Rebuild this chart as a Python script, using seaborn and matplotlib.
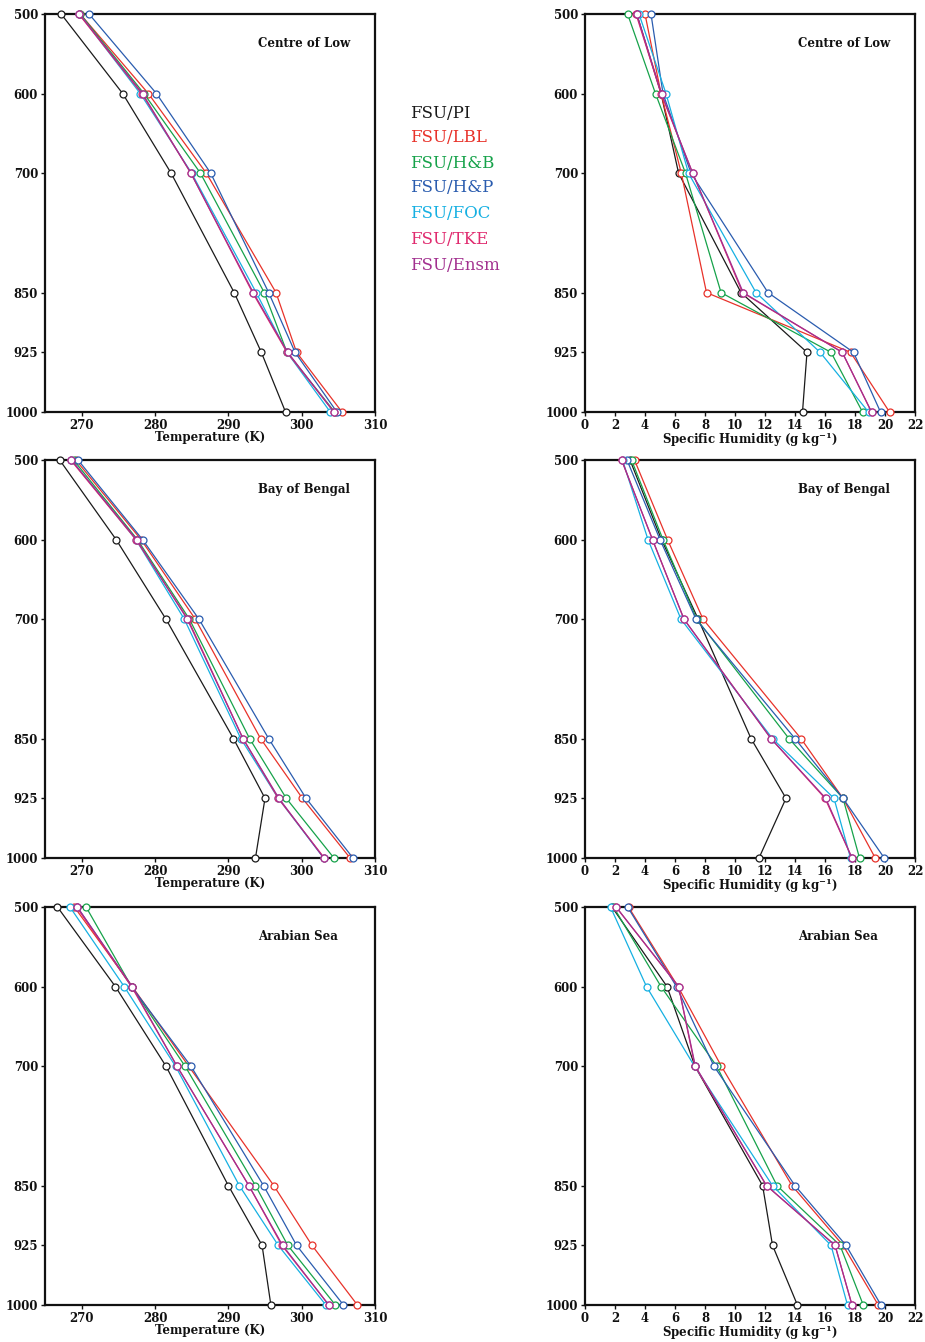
import numpy as np
import pandas as pd
import matplotlib
matplotlib.use("Agg")
import matplotlib.pyplot as plt
import seaborn as sns

# ---------------- data ----------------
pressure = [500, 600, 700, 850, 925, 1000]
models = ["FSU/PI", "FSU/LBL", "FSU/H&B", "FSU/H&P", "FSU/FOC", "FSU/TKE", "FSU/Ensm"]
colors = ["#1a1a1a", "#e8322a", "#16a24a", "#2a5caf", "#16b0e2", "#e02a6e", "#a2308f"]
regions = ["Centre of Low", "Bay of Bengal", "Arabian Sea"]

# Temperature (K)
temp_low_pi   = [267.2, 275.6, 282.2, 290.8, 294.5, 297.8]
temp_low_lbl  = [269.8, 279.1, 287.0, 296.5, 299.3, 305.5]
temp_low_hb   = [269.8, 278.5, 286.2, 294.9, 298.0, 304.5]
temp_low_hp   = [271.0, 280.2, 287.6, 295.5, 299.1, 304.8]
temp_low_foc  = [269.7, 278.0, 285.0, 293.8, 298.0, 303.9]
temp_low_tke  = [269.6, 278.2, 284.9, 293.3, 298.0, 304.4]
temp_low_ens  = [269.7, 278.3, 284.9, 293.4, 298.1, 304.4]

temp_bob_pi   = [267.0, 274.7, 281.5, 290.7, 295.0, 293.7]
temp_bob_lbl  = [269.2, 278.1, 285.5, 294.4, 300.1, 306.6]
temp_bob_hb   = [268.9, 277.6, 284.7, 292.9, 297.9, 304.4]
temp_bob_hp   = [269.5, 278.3, 286.0, 295.5, 300.6, 307.0]
temp_bob_foc  = [268.6, 277.4, 284.0, 291.7, 296.8, 303.0]
temp_bob_tke  = [268.5, 277.4, 284.5, 292.0, 296.8, 303.1]
temp_bob_ens  = [268.6, 277.5, 284.4, 292.0, 296.9, 303.0]

temp_ars_pi   = [266.7, 274.6, 281.5, 290.0, 294.6, 295.8]
temp_ars_lbl  = [269.0, 276.9, 284.6, 296.2, 301.4, 307.6]
temp_ars_hb   = [270.6, 276.8, 284.1, 293.7, 298.1, 304.6]
temp_ars_hp   = [269.4, 276.8, 284.9, 294.8, 299.3, 305.7]
temp_ars_foc  = [268.4, 275.8, 282.8, 291.5, 296.8, 303.3]
temp_ars_tke  = [269.3, 276.8, 283.0, 292.8, 297.3, 303.7]
temp_ars_ens  = [269.4, 276.9, 283.0, 292.8, 297.4, 303.7]

# Specific humidity (g/kg)
q_low_pi   = [3.45, 5.07, 6.24, 10.4, 14.8, 14.5]
q_low_lbl  = [4.0, 5.07, 6.42, 8.1, 17.7, 20.3]
q_low_hb   = [2.84, 4.7, 6.7, 9.07, 16.4, 18.5]
q_low_hp   = [4.4, 5.2, 7.07, 12.2, 17.9, 19.7]
q_low_foc  = [3.6, 5.4, 6.9, 11.4, 15.67, 18.9]
q_low_tke  = [3.4, 5.07, 7.18, 10.5, 17.15, 19.1]
q_low_ens  = [3.45, 5.1, 7.18, 10.55, 17.15, 19.1]

q_bob_pi   = [3.0, 5.1, 7.55, 11.07, 13.4, 11.6]
q_bob_lbl  = [3.3, 5.5, 7.87, 14.4, 17.2, 19.35]
q_bob_hb   = [3.1, 5.2, 7.45, 13.6, 17.2, 18.3]
q_bob_hp   = [2.8, 5.0, 7.4, 14.0, 17.2, 19.95]
q_bob_foc  = [2.5, 4.2, 6.4, 12.5, 16.6, 17.7]
q_bob_tke  = [2.44, 4.5, 6.6, 12.4, 16.0, 17.8]
q_bob_ens  = [2.44, 4.5, 6.6, 12.4, 16.05, 17.8]

q_ars_pi   = [1.8, 5.47, 7.33, 11.84, 12.5, 14.16]
q_ars_lbl  = [2.9, 6.2, 9.09, 13.8, 17.2, 19.55]
q_ars_hb   = [1.9, 5.07, 8.78, 12.8, 17.0, 18.55]
q_ars_hp   = [2.84, 6.1, 8.6, 14.0, 17.4, 19.73]
q_ars_foc  = [1.7, 4.1, 7.3, 12.5, 16.4, 17.5]
q_ars_tke  = [2.07, 6.24, 7.33, 12.1, 16.67, 17.8]
q_ars_ens  = [2.07, 6.24, 7.36, 12.1, 16.67, 17.8]

temp_sets = [
    [temp_low_pi, temp_low_lbl, temp_low_hb, temp_low_hp, temp_low_foc, temp_low_tke, temp_low_ens],
    [temp_bob_pi, temp_bob_lbl, temp_bob_hb, temp_bob_hp, temp_bob_foc, temp_bob_tke, temp_bob_ens],
    [temp_ars_pi, temp_ars_lbl, temp_ars_hb, temp_ars_hp, temp_ars_foc, temp_ars_tke, temp_ars_ens],
]
q_sets = [
    [q_low_pi, q_low_lbl, q_low_hb, q_low_hp, q_low_foc, q_low_tke, q_low_ens],
    [q_bob_pi, q_bob_lbl, q_bob_hb, q_bob_hp, q_bob_foc, q_bob_tke, q_bob_ens],
    [q_ars_pi, q_ars_lbl, q_ars_hb, q_ars_hp, q_ars_foc, q_ars_tke, q_ars_ens],
]

temp_ticks = [270, 280, 290, 300, 310]
q_ticks = list(range(0, 23, 2))

# ---------------- style ----------------
sns.set_theme(style="ticks")
plt.rcParams["font.family"] = ["DejaVu Serif"]
plt.rcParams["font.weight"] = "bold"
plt.rcParams["mathtext.fontset"] = "dejavuserif"

fig = plt.figure(figsize=(9.25, 13.42), dpi=100)

W = 330 / 925
H = 398 / 1342
lefts = [45 / 925, 585 / 925]
bottoms = [1 - 412 / 1342, 1 - 858 / 1342, 1 - 1305 / 1342]

def style_axis(ax, xlim, xticks, xlabel, title):
    ax.set_xlim(*xlim)
    ax.set_ylim(1000, 500)
    ax.set_yticks(pressure)
    ax.set_yticklabels([str(p) for p in pressure])
    ax.set_xticks(xticks)
    ax.set_xticklabels([str(t) for t in xticks])
    ax.tick_params(axis="both", direction="out", length=3, width=1.0,
                   labelsize=8.5, pad=2, colors="#111111")
    for lab in ax.get_xticklabels() + ax.get_yticklabels():
        lab.set_fontweight("bold")
    for sp in ax.spines.values():
        sp.set_visible(True)
        sp.set_linewidth(1.6)
        sp.set_color("#111111")
    ax.set_xlabel(xlabel, fontsize=8.5, fontweight="bold", labelpad=-1, color="#111111")
    ax.set_ylabel("")
    ax.text(0.645, 0.925, title, transform=ax.transAxes, fontsize=8.5,
            fontweight="bold", ha="left", va="center", color="#111111")

for r in range(3):
    for c in range(2):
        ax = fig.add_axes([lefts[c], bottoms[r], W, H])
        sets = temp_sets[r] if c == 0 else q_sets[r]
        for i, vals in enumerate(sets):
            df = pd.DataFrame({"x": vals, "p": pressure})
            sns.lineplot(data=df, x="x", y="p", sort=False, estimator=None,
                         color=colors[i], linewidth=0.9, marker="o",
                         markersize=5, markerfacecolor="white",
                         markeredgecolor=colors[i], markeredgewidth=0.9,
                         ax=ax, clip_on=False, zorder=3 + i)
        if c == 0:
            style_axis(ax, (265, 310), temp_ticks, "Temperature (K)", regions[r])
        else:
            style_axis(ax, (0, 22), q_ticks, "Specific Humidity (g kg$^{-1}$)", regions[r])

# legend as coloured text
leg_y = [113, 138, 163, 188, 213, 239, 265]
for name, col, yy in zip(models, colors, leg_y):
    fig.text(410 / 925, 1 - yy / 1342, name, color=col, fontsize=12,
             fontweight="normal", ha="left", va="center", family=["DejaVu Serif"])

fig.savefig("out.png", dpi=100)
